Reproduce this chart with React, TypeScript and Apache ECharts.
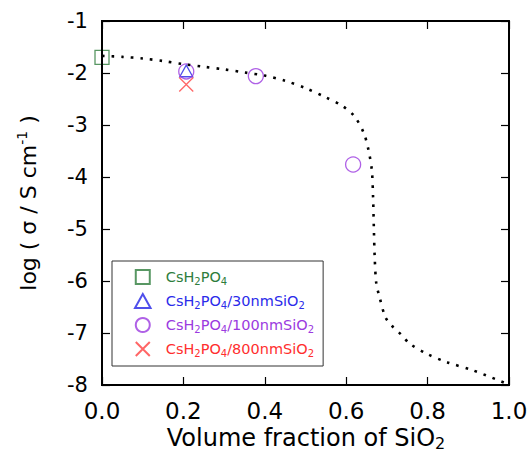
import React, { useEffect, useRef } from "react";
import * as echarts from "echarts";

const xTicks = [0, 0.2, 0.4, 0.6, 0.8, 1.0];
const yTicks = [-8, -7, -6, -5, -4, -3, -2, -1];

// dotted model curve (x, log sigma)
const curveX = [0, 0.05, 0.1, 0.15, 0.2, 0.25, 0.3, 0.35, 0.4, 0.45, 0.5, 0.55, 0.59, 0.62, 0.643, 0.655, 0.663, 0.666, 0.668, 0.67, 0.674, 0.682, 0.696, 0.712, 0.735, 0.757, 0.798, 0.847, 0.912, 0.99];
const curveY = [-1.67, -1.69, -1.72, -1.77, -1.83, -1.88, -1.93, -1.99, -2.05, -2.15, -2.29, -2.47, -2.63, -2.83, -3.15, -3.49, -3.87, -4.38, -5.0, -5.54, -6.05, -6.31, -6.69, -6.86, -7.03, -7.21, -7.4, -7.56, -7.72, -7.96];

const pureX = [0];
const pureY = [-1.7];
const nm30X = [0.207];
const nm30Y = [-1.96];
const nm100X = [0.207, 0.378, 0.617];
const nm100Y = [-1.97, -2.06, -3.76];
const nm800X = [0.207];
const nm800Y = [-2.22];

const seriesNames = ["CsH2PO4", "CsH2PO4/30nmSiO2", "CsH2PO4/100nmSiO2", "CsH2PO4/800nmSiO2"];
const legendTags = ["g", "b", "p", "r"];

const FONT = "DejaVu Sans";
const colors: Record<string, string> = {
  g: "#2e7d3c",
  b: "#2b2bea",
  p: "#9b3ae0",
  r: "#ff2e2e",
};
const markerColors = ["#2e7d3c", "#2323e6", "#9b3ae0", "#ff4040"];

const GRID = { left: 102, right: 21, top: 21, bottom: 67, containLabel: false, outerBoundsMode: "none" };

function zip(xs: number[], ys: number[]) {
  return xs.map((x, i) => [x, ys[i]]);
}

function legendRich() {
  const rich: any = {};
  for (const k of legendTags) {
    const c = colors[k];
    rich[k] = { fontFamily: FONT, fontSize: 14.5, color: c, lineHeight: 18 };
    rich[k + "s"] = {
      fontFamily: FONT,
      fontSize: 10,
      color: c,
      lineHeight: 12,
      verticalAlign: "bottom",
    };
  }
  return rich;
}

function legendFormat(name: string) {
  const idx = seriesNames.indexOf(name);
  const t = legendTags[idx];
  let out = "";
  const re = /([A-Za-z])(\d)(?![0-9])/g;
  let last = 0;
  let m: RegExpExecArray | null;
  while ((m = re.exec(name)) !== null) {
    const before = name.slice(last, m.index + 1);
    out += `{${t}|${before}}{${t}s|${m[2]}}`;
    last = m.index + 2;
  }
  if (last < name.length) out += `{${t}|${name.slice(last)}}`;
  return out;
}

const titleGraphics = [
  {
    type: "text",
    x: 306,
    y: 438,
    silent: true,
    style: {
      text: "{m|Volume fraction of SiO}{s|2}",
      align: "center",
      verticalAlign: "middle",
      rich: {
        m: { fontFamily: FONT, fontSize: 24, fill: "#000", lineHeight: 26 },
        s: { fontFamily: FONT, fontSize: 16, fill: "#000", lineHeight: 16, verticalAlign: "bottom" },
      },
    },
  },
  {
    type: "text",
    x: 28,
    y: 203,
    rotation: Math.PI / 2,
    silent: true,
    style: {
      text: "{m|log ( σ / S cm}{u|-1}{m| )}",
      align: "center",
      verticalAlign: "middle",
      rich: {
        m: { fontFamily: FONT, fontSize: 22, fill: "#000", lineHeight: 26 },
        u: { fontFamily: FONT, fontSize: 14, fill: "#000", lineHeight: 14, verticalAlign: "top" },
      },
    },
  },
];

function frameAxis(kind: "x" | "y", position: string) {
  const isX = kind === "x";
  return {
    type: "value",
    min: isX ? xTicks[0] : yTicks[0],
    max: isX ? xTicks[xTicks.length - 1] : yTicks[yTicks.length - 1],
    interval: isX ? 0.2 : 1,
    position,
    axisLine: { show: true, onZero: false, lineStyle: { color: "#000", width: 2 } },
    axisTick: { show: true, inside: true, length: 8, lineStyle: { color: "#000", width: 1.2 } },
    axisLabel: { show: false },
    splitLine: { show: false },
  };
}

export default function App() {
  const ref = useRef<HTMLDivElement>(null);
  const frameRef = useRef<HTMLDivElement>(null);
  useEffect(() => {
    if (!ref.current || !frameRef.current) return;
    const chart = echarts.init(ref.current, undefined, { renderer: "svg" });
    const symbols = [
      "path://M0,0L10,0L10,10L0,10Z",
      "path://M5,0L10,9L0,9Z",
      "circle",
      "path://M0,0L10,10M10,0L0,10",
    ];
    const sizes = [14, 13, 15, 14];
    const datas = [zip(pureX, pureY), zip(nm30X, nm30Y), zip(nm100X, nm100Y), zip(nm800X, nm800Y)];
    const option: any = {
      animation: false,
      grid: GRID,
      legend: {
        data: seriesNames,
        orient: "vertical",
        left: 112,
        top: 261,
        itemWidth: 36,
        itemHeight: 14,
        itemGap: 7,
        symbolKeepAspect: true,
        padding: [8, 9, 8, 22],
        borderColor: "#333",
        borderWidth: 1,
        backgroundColor: "#fff",
        formatter: legendFormat,
        textStyle: { fontFamily: FONT, fontSize: 14.5, rich: legendRich() },
      },
      graphic: titleGraphics,
      xAxis: {
        type: "value",
        min: 0,
        max: 1,
        interval: 0.2,
        position: "bottom",
        axisLine: { show: true, onZero: false, lineStyle: { color: "#000", width: 2 } },
        axisTick: { show: false },
        splitLine: { show: false },
        axisLabel: {
          margin: 14,
          fontFamily: FONT,
          fontSize: 23,
          color: "#000",
          formatter: (v: number) => v.toFixed(1),
        },
      },
      yAxis: {
        type: "value",
        min: -8,
        max: -1,
        interval: 1,
        position: "left",
        axisLine: { show: true, onZero: false, lineStyle: { color: "#000", width: 2 } },
        axisTick: { show: false },
        splitLine: { show: false },
        axisLabel: { margin: 14, fontFamily: FONT, fontSize: 21, color: "#000" },
      },
      series: [
        {
          name: "curve",
          type: "line",
          data: zip(curveX, curveY),
          symbol: "none",
          smooth: 0.3,
          lineStyle: { color: "#000", width: 2.6, type: [2.6, 7], cap: "butt" },
          silent: true,
        },
        ...seriesNames.map((n, i) => ({
          name: n,
          type: "scatter",
          data: datas[i],
          symbol: symbols[i],
          symbolSize: sizes[i],
          symbolKeepAspect: true,
          itemStyle: { color: "transparent", borderColor: markerColors[i], borderWidth: 1.3 },
        })),
      ],
    };
    chart.setOption(option);

    // transparent overlay chart that draws the closed frame with inside ticks on all four sides
    const frame = echarts.init(frameRef.current, undefined, { renderer: "svg" });
    frame.setOption({
      animation: false,
      grid: GRID,
      xAxis: [frameAxis("x", "bottom"), frameAxis("x", "top")],
      yAxis: [frameAxis("y", "left"), frameAxis("y", "right")],
      series: [
        {
          type: "line",
          xAxisIndex: 0,
          yAxisIndex: 0,
          data: zip(curveX, curveY),
          symbol: "none",
          silent: true,
          lineStyle: { opacity: 0 },
        },
        {
          type: "line",
          xAxisIndex: 1,
          yAxisIndex: 1,
          data: zip(curveX, curveY),
          symbol: "none",
          silent: true,
          lineStyle: { opacity: 0 },
        },
      ],
    } as any);
    return () => {
      frame.dispose();
      chart.dispose();
    };
  }, []);
  return (
    <div style={{ position: "absolute", left: 0, top: 0, width: 530, height: 452 }}>
      <div ref={ref} style={{ position: "absolute", left: 0, top: 0, width: 530, height: 452 }} />
      <div
        ref={frameRef}
        style={{ position: "absolute", left: 0, top: 0, width: 530, height: 452, pointerEvents: "none" }}
      />
    </div>
  );
}
